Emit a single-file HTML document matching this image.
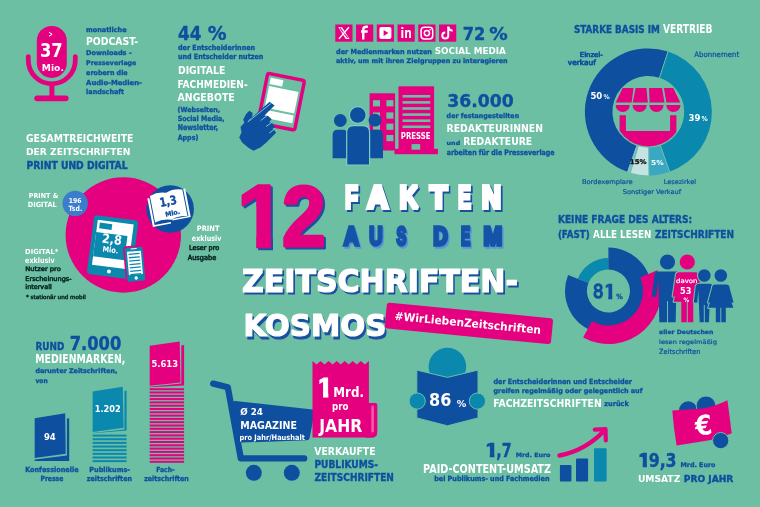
<!DOCTYPE html>
<html><head><meta charset="utf-8"><title>12 Fakten aus dem Zeitschriften-Kosmos</title>
<style>
html,body{margin:0;padding:0;background:#6cbfa3;}
body{width:760px;height:507px;overflow:hidden;}
svg{display:block;font-family:"Liberation Sans",Arial,sans-serif;}
</style></head><body>
<svg width="760" height="507" viewBox="0 0 760 507">
<rect x="0" y="0" width="760" height="507" fill="#6cbfa3"/>
<rect x="36.8" y="25.9" width="30" height="52" rx="15" fill="#e4007f"/>
<path d="M28.3,56.6 L28.3,60.3 A23.5,23.5 0 0 0 75.3,60.3 L75.3,56.6" stroke="#e4007f" stroke-width="4.8" stroke-linecap="round" fill="none"/>
<rect x="49.4" y="84" width="5" height="13" fill="#e4007f"/>
<rect x="34.3" y="95.4" width="34.3" height="5.8" rx="2.9" fill="#e4007f"/>
<text x="48.50" y="36.75" font-family="DejaVu Sans Condensed, DejaVu Sans, sans-serif" font-stretch="condensed" font-size="8.42" font-weight="bold" textLength="4.19" lengthAdjust="spacingAndGlyphs" fill="#ffffff">&gt;</text>
<text x="40.00" y="56.90" font-family="DejaVu Sans Condensed, DejaVu Sans, sans-serif" font-stretch="condensed" font-size="19.19" font-weight="bold" textLength="22.74" lengthAdjust="spacingAndGlyphs" fill="#ffffff">37</text>
<text x="41.80" y="71.10" font-family="DejaVu Sans Condensed, DejaVu Sans, sans-serif" font-stretch="condensed" font-size="8.82" font-weight="bold" textLength="22.09" lengthAdjust="spacingAndGlyphs" fill="#ffffff">Mio.</text>
<text x="86.14" y="31.66" font-family="DejaVu Sans Condensed, DejaVu Sans, sans-serif" font-stretch="condensed" font-size="6.86" font-weight="bold" textLength="40.40" lengthAdjust="spacingAndGlyphs" fill="#0f4f9f" stroke="#0f4f9f" stroke-width="0.29" stroke-linejoin="round">monatliche</text>
<text x="86.00" y="44.80" font-family="DejaVu Sans Condensed, DejaVu Sans, sans-serif" font-stretch="condensed" font-size="11.01" font-weight="bold" textLength="52.01" lengthAdjust="spacingAndGlyphs" fill="#ffffff">PODCAST-</text>
<text x="86.14" y="54.86" font-family="DejaVu Sans Condensed, DejaVu Sans, sans-serif" font-stretch="condensed" font-size="6.61" font-weight="bold" textLength="45.90" lengthAdjust="spacingAndGlyphs" fill="#0f4f9f" stroke="#0f4f9f" stroke-width="0.28" stroke-linejoin="round">Downloads –</text>
<text x="86.14" y="65.36" font-family="DejaVu Sans Condensed, DejaVu Sans, sans-serif" font-stretch="condensed" font-size="6.48" font-weight="bold" textLength="50.23" lengthAdjust="spacingAndGlyphs" fill="#0f4f9f" stroke="#0f4f9f" stroke-width="0.27" stroke-linejoin="round">Presseverlage</text>
<text x="86.14" y="74.66" font-family="DejaVu Sans Condensed, DejaVu Sans, sans-serif" font-stretch="condensed" font-size="6.86" font-weight="bold" textLength="41.52" lengthAdjust="spacingAndGlyphs" fill="#0f4f9f" stroke="#0f4f9f" stroke-width="0.29" stroke-linejoin="round">erobern die</text>
<text x="86.14" y="84.56" font-family="DejaVu Sans Condensed, DejaVu Sans, sans-serif" font-stretch="condensed" font-size="6.86" font-weight="bold" textLength="55.70" lengthAdjust="spacingAndGlyphs" fill="#0f4f9f" stroke="#0f4f9f" stroke-width="0.29" stroke-linejoin="round">Audio-Medien-</text>
<text x="86.14" y="94.06" font-family="DejaVu Sans Condensed, DejaVu Sans, sans-serif" font-stretch="condensed" font-size="6.86" font-weight="bold" textLength="38.03" lengthAdjust="spacingAndGlyphs" fill="#0f4f9f" stroke="#0f4f9f" stroke-width="0.29" stroke-linejoin="round">landschaft</text>
<text x="178.08" y="39.53" font-family="DejaVu Sans Condensed, DejaVu Sans, sans-serif" font-stretch="condensed" font-size="19.38" font-weight="bold" textLength="23.39" lengthAdjust="spacingAndGlyphs" fill="#0f4f9f" stroke="#0f4f9f" stroke-width="0.35" stroke-linejoin="round">44</text>
<text x="207.68" y="39.53" font-family="DejaVu Sans Condensed, DejaVu Sans, sans-serif" font-stretch="condensed" font-size="18.99" font-weight="bold" textLength="18.78" lengthAdjust="spacingAndGlyphs" fill="#0f4f9f" stroke="#0f4f9f" stroke-width="0.35" stroke-linejoin="round">%</text>
<text x="178.05" y="49.85" font-family="DejaVu Sans Condensed, DejaVu Sans, sans-serif" font-stretch="condensed" font-size="7.11" font-weight="bold" textLength="76.99" lengthAdjust="spacingAndGlyphs" fill="#0f4f9f" stroke="#0f4f9f" stroke-width="0.30" stroke-linejoin="round">der Entscheiderinnen</text>
<text x="178.06" y="59.24" font-family="DejaVu Sans Condensed, DejaVu Sans, sans-serif" font-stretch="condensed" font-size="7.35" font-weight="bold" textLength="85.18" lengthAdjust="spacingAndGlyphs" fill="#0f4f9f" stroke="#0f4f9f" stroke-width="0.31" stroke-linejoin="round">und Entscheider nutzen</text>
<text x="177.90" y="73.50" font-family="DejaVu Sans Condensed, DejaVu Sans, sans-serif" font-stretch="condensed" font-size="10.60" font-weight="bold" textLength="47.40" lengthAdjust="spacingAndGlyphs" fill="#ffffff">DIGITALE</text>
<text x="177.50" y="87.70" font-family="DejaVu Sans Condensed, DejaVu Sans, sans-serif" font-stretch="condensed" font-size="10.20" font-weight="bold" textLength="70.18" lengthAdjust="spacingAndGlyphs" fill="#ffffff">FACHMEDIEN-</text>
<text x="177.50" y="101.30" font-family="DejaVu Sans Condensed, DejaVu Sans, sans-serif" font-stretch="condensed" font-size="10.74" font-weight="bold" textLength="57.31" lengthAdjust="spacingAndGlyphs" fill="#ffffff">ANGEBOTE</text>
<text x="177.64" y="112.06" font-family="DejaVu Sans Condensed, DejaVu Sans, sans-serif" font-stretch="condensed" font-size="6.86" font-weight="bold" textLength="42.51" lengthAdjust="spacingAndGlyphs" fill="#0f4f9f" stroke="#0f4f9f" stroke-width="0.29" stroke-linejoin="round">(Webseiten,</text>
<text x="177.65" y="121.05" font-family="DejaVu Sans Condensed, DejaVu Sans, sans-serif" font-stretch="condensed" font-size="7.23" font-weight="bold" textLength="47.01" lengthAdjust="spacingAndGlyphs" fill="#0f4f9f" stroke="#0f4f9f" stroke-width="0.31" stroke-linejoin="round">Social Media,</text>
<text x="177.67" y="130.43" font-family="DejaVu Sans Condensed, DejaVu Sans, sans-serif" font-stretch="condensed" font-size="7.85" font-weight="bold" textLength="40.45" lengthAdjust="spacingAndGlyphs" fill="#0f4f9f" stroke="#0f4f9f" stroke-width="0.33" stroke-linejoin="round">Newsletter,</text>
<text x="177.65" y="139.65" font-family="DejaVu Sans Condensed, DejaVu Sans, sans-serif" font-stretch="condensed" font-size="7.23" font-weight="bold" textLength="20.70" lengthAdjust="spacingAndGlyphs" fill="#0f4f9f" stroke="#0f4f9f" stroke-width="0.31" stroke-linejoin="round">Apps)</text>
<g transform="translate(281.2,101.7) rotate(11.3)"><rect x="-20.5" y="-27" width="41" height="54" rx="4" fill="#e4007f"/><rect x="-17" y="-23.5" width="34" height="47" fill="#6cbfa3"/><rect x="-15" y="-21.5" width="13" height="6.5" fill="#ffffff"/><rect x="-15" y="-13" width="30" height="22" fill="#ffffff"/><rect x="-15" y="11" width="30" height="8" fill="#ffffff"/></g>
<polygon points="269.65,101.83 274.55,105.45 267.95,112.06 264.54,115.57 268.16,116.10 271.68,119.30 269.23,122.07 272.74,123.56 274.98,126.75 272.42,129.10 274.55,130.16 276.04,132.72 271.36,137.62 266.03,142.73 260.71,147.20 253.57,150.72 248.78,148.05 242.39,142.73 239.19,137.62 241.54,132.29 240.47,126.97 244.31,122.71 243.24,119.51 246.12,113.97 249.31,110.78 252.61,113.12 252.19,117.17 249.42,119.30 247.50,121.64" fill="#0f4f9f"/>
<line x1="247.71" y1="122.07" x2="271.14" y2="103.32" stroke="#7cc9c9" stroke-width="1"/>
<line x1="260.71" y1="120.58" x2="267.10" y2="115.57" stroke="#7cc9c9" stroke-width="1"/>
<line x1="266.03" y1="126.54" x2="272.21" y2="122.07" stroke="#7cc9c9" stroke-width="1"/>
<line x1="269.23" y1="133.14" x2="274.55" y2="129.10" stroke="#7cc9c9" stroke-width="1"/>
<rect x="335.30" y="24.5" width="17.2" height="17.2" fill="#e4007f"/>
<rect x="356.05" y="24.5" width="17.2" height="17.2" fill="#e4007f"/>
<rect x="376.80" y="24.5" width="17.2" height="17.2" fill="#e4007f"/>
<rect x="397.55" y="24.5" width="17.2" height="17.2" fill="#e4007f"/>
<rect x="418.30" y="24.5" width="17.2" height="17.2" fill="#e4007f"/>
<rect x="439.05" y="24.5" width="17.2" height="17.2" fill="#e4007f"/>
<path d="M338.3,27.3 L342.1,27.3 L349.50000000000006,38.9 L345.70000000000005,38.9 Z" fill="#ffffff"/>
<path d="M340.00000000000006,28.200000000000003 L347.8,38.0" stroke="#e4007f" stroke-width="1.1" fill="none"/>
<path d="M348.90000000000003,27.3 L338.90000000000003,38.9" stroke="#ffffff" stroke-width="1.4" fill="none"/>
<path d="M367.85,26.8 L366.25000000000006,26.8 Q363.25000000000006,26.8 363.25000000000006,29.8 L363.25000000000006,39.6 M361.05,31.5 L367.65000000000003,31.5" stroke="#ffffff" stroke-width="2.4" fill="none"/>
<rect x="379.40000000000003" y="27.1" width="12" height="12" rx="2" fill="#ffffff"/>
<path d="M383.6,30.1 L388.40000000000003,33.1 L383.6,36.1 Z" fill="#e4007f"/>
<text x="400.55" y="38.10" font-family="DejaVu Sans Condensed, DejaVu Sans, sans-serif" font-stretch="condensed" font-size="14.21" font-weight="bold" textLength="11.19" lengthAdjust="spacingAndGlyphs" fill="#ffffff">in</text>
<rect x="421.1" y="27.3" width="11.6" height="11.6" rx="3.2" fill="none" stroke="#ffffff" stroke-width="1.5"/>
<circle cx="426.90000000000003" cy="33.1" r="2.6" fill="none" stroke="#ffffff" stroke-width="1.5"/>
<circle cx="430.20000000000005" cy="29.8" r="0.8" fill="#ffffff"/>
<path d="M448.25000000000006,26.6 L448.25000000000006,35.6 A3,3 0 1 1 445.25000000000006,32.6" stroke="#ffffff" stroke-width="2" fill="none"/>
<path d="M448.25000000000006,27.1 Q449.15000000000003,30.6 452.65000000000003,30.8" stroke="#ffffff" stroke-width="2" fill="none"/>
<text x="462.78" y="39.93" font-family="DejaVu Sans Condensed, DejaVu Sans, sans-serif" font-stretch="condensed" font-size="18.19" font-weight="bold" textLength="22.59" lengthAdjust="spacingAndGlyphs" fill="#0f4f9f" stroke="#0f4f9f" stroke-width="0.35" stroke-linejoin="round">72</text>
<text x="489.18" y="39.93" font-family="DejaVu Sans Condensed, DejaVu Sans, sans-serif" font-stretch="condensed" font-size="18.19" font-weight="bold" textLength="18.48" lengthAdjust="spacingAndGlyphs" fill="#0f4f9f" stroke="#0f4f9f" stroke-width="0.35" stroke-linejoin="round">%</text>
<text x="336.04" y="53.96" font-family="DejaVu Sans Condensed, DejaVu Sans, sans-serif" font-stretch="condensed" font-size="6.86" font-weight="bold" textLength="95.91" lengthAdjust="spacingAndGlyphs" fill="#0f4f9f" stroke="#0f4f9f" stroke-width="0.29" stroke-linejoin="round">der Medienmarken nutzen</text>
<text x="434.70" y="54.20" font-family="DejaVu Sans Condensed, DejaVu Sans, sans-serif" font-stretch="condensed" font-size="9.40" font-weight="bold" textLength="71.08" lengthAdjust="spacingAndGlyphs" fill="#ffffff">SOCIAL MEDIA</text>
<text x="336.04" y="62.86" font-family="DejaVu Sans Condensed, DejaVu Sans, sans-serif" font-stretch="condensed" font-size="6.61" font-weight="bold" textLength="171.61" lengthAdjust="spacingAndGlyphs" fill="#0f4f9f" stroke="#0f4f9f" stroke-width="0.28" stroke-linejoin="round">aktiv, um mit ihren Zielgruppen zu interagieren</text>
<rect x="369.6" y="93.3" width="25.5" height="57.2" fill="#e4007f"/>
<rect x="373" y="100.2" width="7" height="6.2" fill="#6cbfa3"/>
<rect x="386.4" y="100.2" width="7" height="6.2" fill="#6cbfa3"/>
<rect x="373" y="112.4" width="7" height="6.2" fill="#6cbfa3"/>
<rect x="386.4" y="112.4" width="7" height="6.2" fill="#6cbfa3"/>
<rect x="373" y="123.6" width="7" height="6.2" fill="#6cbfa3"/>
<rect x="386.4" y="123.6" width="7" height="6.2" fill="#6cbfa3"/>
<rect x="373" y="135.0" width="7" height="6.2" fill="#6cbfa3"/>
<rect x="386.4" y="135.0" width="7" height="6.2" fill="#6cbfa3"/>
<rect x="396.5" y="85.3" width="39.6" height="65" fill="#6cbfa3"/>
<rect x="398.5" y="86.3" width="35.6" height="64" fill="#e4007f"/>
<rect x="394.5" y="148.8" width="43.4" height="5.4" fill="#e4007f"/>
<rect x="402.5" y="95.00" width="27.8" height="2.6" fill="#6cbfa3"/>
<rect x="402.5" y="101.10" width="27.8" height="2.6" fill="#6cbfa3"/>
<rect x="402.5" y="107.20" width="27.8" height="2.6" fill="#6cbfa3"/>
<rect x="402.5" y="113.30" width="27.8" height="2.6" fill="#6cbfa3"/>
<rect x="402.5" y="119.40" width="27.8" height="2.6" fill="#6cbfa3"/>
<rect x="402.5" y="125.50" width="27.8" height="2.6" fill="#6cbfa3"/>
<rect x="411.5" y="144.1" width="8.7" height="5.6" fill="#6cbfa3"/>
<text x="400.80" y="138.90" font-family="DejaVu Sans Condensed, DejaVu Sans, sans-serif" font-stretch="condensed" font-size="8.86" font-weight="bold" textLength="29.78" lengthAdjust="spacingAndGlyphs" fill="#ffffff">PRESSE</text>
<path d="M332.6,158.3 L332.6,135.01999999999998 Q332.6,129.7 337.92,129.7 L342.48,129.7 Q347.8,129.7 347.8,135.01999999999998 L347.8,158.3 Z" fill="#0f4f9f"/>
<circle cx="340.3" cy="120.5" r="6.4" fill="#0f4f9f"/>
<path d="M368.0,158.3 L368.0,134.95 Q368.0,129.7 373.25,129.7 L377.75,129.7 Q383.0,129.7 383.0,134.95 L383.0,158.3 Z" fill="#0f4f9f"/>
<circle cx="375.0" cy="120.2" r="6.4" fill="#0f4f9f"/>
<path d="M347.3,164.4 L347.3,132.2 Q347.3,126.2 353.3,126.2 L363.0,126.2 Q369.0,126.2 369.0,132.2 L369.0,164.4 Z" fill="#7ccfc0" stroke="#7ccfc0" stroke-width="2.4"/>
<circle cx="357.8" cy="115.0" r="9.0" fill="#7ccfc0"/>
<path d="M347.3,164.4 L347.3,132.2 Q347.3,126.2 353.3,126.2 L363.0,126.2 Q369.0,126.2 369.0,132.2 L369.0,164.4 Z" fill="#0f4f9f"/>
<circle cx="357.8" cy="115.0" r="7.8" fill="#0f4f9f"/>
<text x="447.38" y="106.62" font-family="DejaVu Sans Condensed, DejaVu Sans, sans-serif" font-stretch="condensed" font-size="17.92" font-weight="bold" textLength="66.29" lengthAdjust="spacingAndGlyphs" fill="#0f4f9f" stroke="#0f4f9f" stroke-width="0.35" stroke-linejoin="round">36.000</text>
<text x="446.64" y="117.56" font-family="DejaVu Sans Condensed, DejaVu Sans, sans-serif" font-stretch="condensed" font-size="6.73" font-weight="bold" textLength="72.51" lengthAdjust="spacingAndGlyphs" fill="#0f4f9f" stroke="#0f4f9f" stroke-width="0.28" stroke-linejoin="round">der festangestellten</text>
<text x="446.50" y="132.10" font-family="DejaVu Sans Condensed, DejaVu Sans, sans-serif" font-stretch="condensed" font-size="11.23" font-weight="bold" textLength="96.48" lengthAdjust="spacingAndGlyphs" fill="#ffffff">REDAKTEURINNEN</text>
<text x="446.62" y="144.58" font-family="DejaVu Sans Condensed, DejaVu Sans, sans-serif" font-stretch="condensed" font-size="5.73" font-weight="bold" textLength="13.56" lengthAdjust="spacingAndGlyphs" fill="#0f4f9f" stroke="#0f4f9f" stroke-width="0.24" stroke-linejoin="round">und</text>
<text x="463.20" y="144.70" font-family="DejaVu Sans Condensed, DejaVu Sans, sans-serif" font-stretch="condensed" font-size="10.68" font-weight="bold" textLength="68.90" lengthAdjust="spacingAndGlyphs" fill="#ffffff">REDAKTEURE</text>
<text x="446.66" y="154.74" font-family="DejaVu Sans Condensed, DejaVu Sans, sans-serif" font-stretch="condensed" font-size="7.46" font-weight="bold" textLength="107.90" lengthAdjust="spacingAndGlyphs" fill="#0f4f9f" stroke="#0f4f9f" stroke-width="0.31" stroke-linejoin="round">arbeiten für die Presseverlage</text>
<text x="573.92" y="32.83" font-family="DejaVu Sans Condensed, DejaVu Sans, sans-serif" font-stretch="condensed" font-size="11.28" font-weight="bold" textLength="85.89" lengthAdjust="spacingAndGlyphs" fill="#0f4f9f" stroke="#0f4f9f" stroke-width="0.35" stroke-linejoin="round">STARKE BASIS IM</text>
<text x="663.00" y="33.00" font-family="DejaVu Sans Condensed, DejaVu Sans, sans-serif" font-stretch="condensed" font-size="11.99" font-weight="bold" textLength="49.50" lengthAdjust="spacingAndGlyphs" fill="#ffffff">VERTRIEB</text>
<text x="579.80" y="57.20" font-family="DejaVu Sans Condensed, DejaVu Sans, sans-serif" font-stretch="condensed" font-size="6.77" font-weight="normal" textLength="22.89" lengthAdjust="spacingAndGlyphs" fill="#0f4f9f" stroke="#0f4f9f" stroke-width="0.61" stroke-linejoin="round">Einzel-</text>
<text x="567.83" y="65.17" font-family="DejaVu Sans Condensed, DejaVu Sans, sans-serif" font-stretch="condensed" font-size="7.36" font-weight="normal" textLength="27.94" lengthAdjust="spacingAndGlyphs" fill="#0f4f9f" stroke="#0f4f9f" stroke-width="0.66" stroke-linejoin="round">verkauf</text>
<text x="694.37" y="57.13" font-family="DejaVu Sans Condensed, DejaVu Sans, sans-serif" font-stretch="condensed" font-size="7.58" font-weight="normal" textLength="44.76" lengthAdjust="spacingAndGlyphs" fill="#0f4f9f" stroke="#0f4f9f" stroke-width="0.24" stroke-linejoin="round">Abonnement</text>
<path d="M627.20,171.76 A63.5,63.5 0 0 1 668.02,51.51 L659.46,77.85 A35.8,35.8 0 0 0 636.45,145.65 Z" fill="#0f4f9f"/>
<path d="M668.02,51.51 A63.5,63.5 0 0 1 669.70,171.72 L660.41,145.63 A35.8,35.8 0 0 0 659.46,77.85 Z" fill="#0a88ad"/>
<path d="M669.70,171.72 A63.5,63.5 0 0 1 648.95,175.40 L648.71,147.70 A35.8,35.8 0 0 0 660.41,145.63 Z" fill="#3aa7c3"/>
<path d="M648.95,175.40 A63.5,63.5 0 0 1 630.37,172.79 L638.23,146.23 A35.8,35.8 0 0 0 648.71,147.70 Z" fill="#c6e3e3"/>
<path d="M630.37,172.79 A63.5,63.5 0 0 1 627.20,171.76 L636.45,145.65 A35.8,35.8 0 0 0 638.23,146.23 Z" fill="#7cc0d0"/>
<line x1="659.46" y1="77.85" x2="668.33" y2="50.56" stroke="#6cbfa3" stroke-width="1"/>
<line x1="660.41" y1="145.63" x2="670.04" y2="172.66" stroke="#6cbfa3" stroke-width="1"/>
<line x1="648.71" y1="147.70" x2="648.96" y2="176.40" stroke="#6cbfa3" stroke-width="1"/>
<line x1="638.23" y1="146.23" x2="630.08" y2="173.74" stroke="#6cbfa3" stroke-width="1"/>
<polygon points="622.70,88.00 633.50,88.00 631.60,102.60 615.70,102.60" fill="#e4007f"/>
<polygon points="635.60,88.00 646.50,88.00 647.80,102.60 632.80,102.60" fill="#e4007f"/>
<polygon points="649.00,88.00 662.00,88.00 664.50,102.60 649.60,102.60" fill="#e4007f"/>
<polygon points="663.90,88.00 673.20,88.00 680.30,102.60 666.40,102.60" fill="#e4007f"/>
<path d="M615.6,105 A7.1,7.1 0 0 0 629.8000000000001,105 Z" fill="#e4007f"/>
<path d="M632.5,105 A7.1,7.1 0 0 0 646.7,105 Z" fill="#e4007f"/>
<path d="M649.4,105 A7.1,7.1 0 0 0 663.6,105 Z" fill="#e4007f"/>
<path d="M666.3,105 A7.1,7.1 0 0 0 680.5,105 Z" fill="#e4007f"/>
<clipPath id="shopclip"><circle cx="648.4" cy="111.9" r="34.5"/></clipPath>
<path d="M619.6,115.3 L619.6,152 L676.4,152 L676.4,115.3 L670.1,115.3 L670.1,131 L625.9,131 L625.9,115.3 Z" fill="#e4007f" clip-path="url(#shopclip)"/>
<text x="590.40" y="99.40" font-family="DejaVu Sans Condensed, DejaVu Sans, sans-serif" font-stretch="condensed" font-size="8.19" font-weight="bold" textLength="11.92" lengthAdjust="spacingAndGlyphs" fill="#ffffff">50</text>
<text x="603.60" y="99.40" font-family="DejaVu Sans Condensed, DejaVu Sans, sans-serif" font-stretch="condensed" font-size="6.44" font-weight="bold" textLength="6.21" lengthAdjust="spacingAndGlyphs" fill="#ffffff">%</text>
<text x="688.50" y="121.00" font-family="DejaVu Sans Condensed, DejaVu Sans, sans-serif" font-stretch="condensed" font-size="8.59" font-weight="bold" textLength="11.92" lengthAdjust="spacingAndGlyphs" fill="#ffffff">39</text>
<text x="701.60" y="121.00" font-family="DejaVu Sans Condensed, DejaVu Sans, sans-serif" font-stretch="condensed" font-size="6.85" font-weight="bold" textLength="6.21" lengthAdjust="spacingAndGlyphs" fill="#ffffff">%</text>
<text x="629.84" y="164.36" font-family="DejaVu Sans Condensed, DejaVu Sans, sans-serif" font-stretch="condensed" font-size="6.48" font-weight="bold" textLength="16.81" lengthAdjust="spacingAndGlyphs" fill="#111111" stroke="#111111" stroke-width="0.27" stroke-linejoin="round">15%</text>
<text x="651.10" y="164.50" font-family="DejaVu Sans Condensed, DejaVu Sans, sans-serif" font-stretch="condensed" font-size="6.85" font-weight="bold" textLength="12.52" lengthAdjust="spacingAndGlyphs" fill="#ffffff">5%</text>
<text x="581.90" y="184.10" font-family="DejaVu Sans Condensed, DejaVu Sans, sans-serif" font-stretch="condensed" font-size="6.45" font-weight="normal" textLength="50.78" lengthAdjust="spacingAndGlyphs" fill="#0f4f9f" stroke="#0f4f9f" stroke-width="0.20" stroke-linejoin="round">Bordexemplare</text>
<text x="663.70" y="184.10" font-family="DejaVu Sans Condensed, DejaVu Sans, sans-serif" font-stretch="condensed" font-size="6.45" font-weight="normal" textLength="32.30" lengthAdjust="spacingAndGlyphs" fill="#0f4f9f" stroke="#0f4f9f" stroke-width="0.20" stroke-linejoin="round">Lesezirkel</text>
<text x="622.70" y="194.00" font-family="DejaVu Sans Condensed, DejaVu Sans, sans-serif" font-stretch="condensed" font-size="6.45" font-weight="normal" textLength="58.46" lengthAdjust="spacingAndGlyphs" fill="#0f4f9f" stroke="#0f4f9f" stroke-width="0.20" stroke-linejoin="round">Sonstiger Verkauf</text>
<text x="26.00" y="141.90" font-family="DejaVu Sans Condensed, DejaVu Sans, sans-serif" font-stretch="condensed" font-size="10.20" font-weight="bold" textLength="107.42" lengthAdjust="spacingAndGlyphs" fill="#ffffff">GESAMTREICHWEITE</text>
<text x="26.00" y="154.80" font-family="DejaVu Sans Condensed, DejaVu Sans, sans-serif" font-stretch="condensed" font-size="9.53" font-weight="bold" textLength="104.48" lengthAdjust="spacingAndGlyphs" fill="#ffffff">DER ZEITSCHRIFTEN</text>
<text x="26.48" y="168.52" font-family="DejaVu Sans Condensed, DejaVu Sans, sans-serif" font-stretch="condensed" font-size="9.60" font-weight="bold" textLength="101.05" lengthAdjust="spacingAndGlyphs" fill="#0f4f9f" stroke="#0f4f9f" stroke-width="0.35" stroke-linejoin="round">PRINT UND DIGITAL</text>
<circle cx="123.3" cy="235" r="57.7" fill="#e4007f"/>
<circle cx="75.2" cy="203.4" r="12.7" fill="#3b7ccb"/>
<text x="68.80" y="203.00" font-family="DejaVu Sans Condensed, DejaVu Sans, sans-serif" font-stretch="condensed" font-size="6.85" font-weight="bold" textLength="12.69" lengthAdjust="spacingAndGlyphs" fill="#ffffff">196</text>
<text x="68.60" y="211.25" font-family="DejaVu Sans Condensed, DejaVu Sans, sans-serif" font-stretch="condensed" font-size="7.30" font-weight="bold" textLength="13.62" lengthAdjust="spacingAndGlyphs" fill="#ffffff">Tsd.</text>
<text x="28.75" y="198.10" font-family="DejaVu Sans Condensed, DejaVu Sans, sans-serif" font-stretch="condensed" font-size="6.71" font-weight="bold" textLength="29.46" lengthAdjust="spacingAndGlyphs" fill="#ffffff">PRINT &amp;</text>
<text x="27.80" y="206.90" font-family="DejaVu Sans Condensed, DejaVu Sans, sans-serif" font-stretch="condensed" font-size="7.11" font-weight="bold" textLength="29.00" lengthAdjust="spacingAndGlyphs" fill="#ffffff">DIGITAL</text>
<circle cx="170.2" cy="209" r="23.75" fill="#0f4f9f"/>
<g transform="translate(168.8,206.5) rotate(-11)"><path d="M-19.5,-12 L-19.5,17 L-1,17 L-1,15.5 L-17.5,15.5 L-17.5,-12 Z" fill="#ffffff"/><path d="M19.5,-14.5 L19.5,14.5 L1,14.5 L1,13 L17.5,13 L17.5,-14.5 Z" fill="#ffffff"/><path d="M-16.5,-14 Q-8,-17 0,-14 Q8,-17 16.5,-14 L16.5,13 Q8,10.5 0,13.5 Q-8,10.5 -16.5,13 Z" fill="#ffffff"/></g>
<g transform="rotate(-11 169 207)">
<text x="160.68" y="205.32" font-family="DejaVu Sans Condensed, DejaVu Sans, sans-serif" font-stretch="condensed" font-size="12.28" font-weight="bold" textLength="17.14" lengthAdjust="spacingAndGlyphs" fill="#0f4f9f" stroke="#0f4f9f" stroke-width="0.35" stroke-linejoin="round">1,3</text>
<text x="163.94" y="215.86" font-family="DejaVu Sans Condensed, DejaVu Sans, sans-serif" font-stretch="condensed" font-size="6.48" font-weight="bold" textLength="14.92" lengthAdjust="spacingAndGlyphs" fill="#0f4f9f" stroke="#0f4f9f" stroke-width="0.27" stroke-linejoin="round">Mio.</text>
</g>
<g transform="translate(112.6,247.2) rotate(7.4)"><rect x="-22.3" y="-29.6" width="44.6" height="59.2" rx="3.5" fill="#0a88ad"/><rect x="-18.2" y="-25.3" width="36.2" height="45.3" fill="#ffffff"/><rect x="-15.8" y="-22.8" width="12.5" height="5.8" fill="#0a88ad"/><rect x="-18.2" y="-13" width="31.5" height="24.5" fill="#0a88ad"/><circle cx="-0.5" cy="24.6" r="2" fill="#ffffff"/></g>
<g transform="rotate(7.4 113.15 246.6)">
<text x="101.00" y="244.00" font-family="DejaVu Sans Condensed, DejaVu Sans, sans-serif" font-stretch="condensed" font-size="12.75" font-weight="bold" textLength="19.99" lengthAdjust="spacingAndGlyphs" fill="#ffffff">2,8</text>
<text x="102.90" y="252.80" font-family="DejaVu Sans Condensed, DejaVu Sans, sans-serif" font-stretch="condensed" font-size="7.63" font-weight="bold" textLength="15.89" lengthAdjust="spacingAndGlyphs" fill="#ffffff">Mio.</text>
</g>
<g transform="translate(135,264.2) rotate(-5)"><rect x="-9.75" y="-17.75" width="19.5" height="35.5" rx="2.5" fill="#0a88ad" stroke="#e4007f" stroke-width="1.6"/><rect x="-7" y="-13" width="14" height="23.5" fill="#ffffff"/><rect x="-5.5" y="-11.00" width="11" height="1.3" fill="#0a88ad"/><rect x="-5.5" y="-7.60" width="11" height="1.3" fill="#0a88ad"/><rect x="-5.5" y="-4.20" width="11" height="1.3" fill="#0a88ad"/><rect x="-5.5" y="-0.80" width="11" height="1.3" fill="#0a88ad"/><rect x="-5.5" y="2.60" width="11" height="1.3" fill="#0a88ad"/><rect x="-5.5" y="6.00" width="11" height="1.3" fill="#0a88ad"/><rect x="-5.5" y="9.40" width="11" height="1.3" fill="#0a88ad"/><rect x="-3" y="-16" width="6" height="1" fill="#ffffff"/><circle cx="0" cy="13.8" r="1.7" fill="#ffffff"/></g>
<text x="196.80" y="231.30" font-family="DejaVu Sans Condensed, DejaVu Sans, sans-serif" font-stretch="condensed" font-size="7.40" font-weight="bold" textLength="22.69" lengthAdjust="spacingAndGlyphs" fill="#ffffff">PRINT</text>
<text x="191.80" y="241.20" font-family="DejaVu Sans Condensed, DejaVu Sans, sans-serif" font-stretch="condensed" font-size="7.89" font-weight="bold" textLength="29.58" lengthAdjust="spacingAndGlyphs" fill="#ffffff">exklusiv</text>
<text x="188.96" y="250.24" font-family="DejaVu Sans Condensed, DejaVu Sans, sans-serif" font-stretch="condensed" font-size="6.69" font-weight="normal" textLength="30.28" lengthAdjust="spacingAndGlyphs" fill="#0c2a26" stroke="#0c2a26" stroke-width="0.52" stroke-linejoin="round">Leser pro</text>
<text x="187.67" y="260.13" font-family="DejaVu Sans Condensed, DejaVu Sans, sans-serif" font-stretch="condensed" font-size="7.05" font-weight="normal" textLength="28.57" lengthAdjust="spacingAndGlyphs" fill="#0c2a26" stroke="#0c2a26" stroke-width="0.54" stroke-linejoin="round">Ausgabe</text>
<text x="25.10" y="253.50" font-family="DejaVu Sans Condensed, DejaVu Sans, sans-serif" font-stretch="condensed" font-size="6.98" font-weight="bold" textLength="33.10" lengthAdjust="spacingAndGlyphs" fill="#ffffff">DIGITAL*</text>
<text x="25.10" y="263.10" font-family="DejaVu Sans Condensed, DejaVu Sans, sans-serif" font-stretch="condensed" font-size="7.63" font-weight="bold" textLength="29.48" lengthAdjust="spacingAndGlyphs" fill="#ffffff">exklusiv</text>
<text x="25.34" y="271.16" font-family="DejaVu Sans Condensed, DejaVu Sans, sans-serif" font-stretch="condensed" font-size="6.32" font-weight="normal" textLength="35.42" lengthAdjust="spacingAndGlyphs" fill="#0c2a26" stroke="#0c2a26" stroke-width="0.49" stroke-linejoin="round">Nutzer pro</text>
<text x="25.35" y="280.55" font-family="DejaVu Sans Condensed, DejaVu Sans, sans-serif" font-stretch="condensed" font-size="6.57" font-weight="normal" textLength="46.30" lengthAdjust="spacingAndGlyphs" fill="#0c2a26" stroke="#0c2a26" stroke-width="0.51" stroke-linejoin="round">Erscheinungs-</text>
<text x="25.35" y="289.45" font-family="DejaVu Sans Condensed, DejaVu Sans, sans-serif" font-stretch="condensed" font-size="6.57" font-weight="normal" textLength="26.39" lengthAdjust="spacingAndGlyphs" fill="#0c2a26" stroke="#0c2a26" stroke-width="0.51" stroke-linejoin="round">intervall</text>
<text x="26.02" y="298.98" font-family="DejaVu Sans Condensed, DejaVu Sans, sans-serif" font-stretch="condensed" font-size="5.61" font-weight="normal" textLength="59.76" lengthAdjust="spacingAndGlyphs" fill="#0c2a26" stroke="#0c2a26" stroke-width="0.43" stroke-linejoin="round">* stationär und mobil</text>
<clipPath id="c1_0"><polygon points="238.0,182.2 273.0,182.2 273.0,254.2 258.2,254.2 258.2,209.2 238.0,209.2"/></clipPath>
<text x="238.74" y="248.80" font-size="88.66" font-weight="bold" fill="#1b4fa0" stroke="#1b4fa0" stroke-width="2.4" stroke-linejoin="round" clip-path="url(#c1_0)">1</text>
<text x="283.90" y="248.40" font-size="86.00" font-weight="bold" textLength="43.59" lengthAdjust="spacingAndGlyphs" fill="#1b4fa0" stroke="#1b4fa0" stroke-width="3.20" stroke-linejoin="round">2</text>
<clipPath id="c1_1"><polygon points="236,180 271,180 271,252 256.2,252 256.2,207 236,207"/></clipPath>
<text x="236.74" y="246.60" font-size="88.66" font-weight="bold" fill="#e4007f" stroke="#e4007f" stroke-width="2.4" stroke-linejoin="round" clip-path="url(#c1_1)">1</text>
<text x="281.90" y="246.20" font-size="86.00" font-weight="bold" textLength="43.59" lengthAdjust="spacingAndGlyphs" fill="#e4007f" stroke="#e4007f" stroke-width="3.20" stroke-linejoin="round">2</text>
<text x="346.93" y="209.87" font-size="31.06" font-weight="bold" textLength="12.55" lengthAdjust="spacingAndGlyphs" fill="#1b4fa0" stroke="#1b4fa0" stroke-width="4.07" stroke-linejoin="miter" stroke-miterlimit="2">F</text>
<text x="368.83" y="209.87" font-size="31.06" font-weight="bold" textLength="20.90" lengthAdjust="spacingAndGlyphs" fill="#1b4fa0" stroke="#1b4fa0" stroke-width="4.07" stroke-linejoin="miter" stroke-miterlimit="2">A</text>
<text x="401.23" y="209.87" font-size="31.06" font-weight="bold" textLength="18.39" lengthAdjust="spacingAndGlyphs" fill="#1b4fa0" stroke="#1b4fa0" stroke-width="4.07" stroke-linejoin="miter" stroke-miterlimit="2">K</text>
<text x="431.53" y="209.87" font-size="31.06" font-weight="bold" textLength="17.26" lengthAdjust="spacingAndGlyphs" fill="#1b4fa0" stroke="#1b4fa0" stroke-width="4.07" stroke-linejoin="miter" stroke-miterlimit="2">T</text>
<text x="459.93" y="209.87" font-size="31.06" font-weight="bold" textLength="12.57" lengthAdjust="spacingAndGlyphs" fill="#1b4fa0" stroke="#1b4fa0" stroke-width="4.07" stroke-linejoin="miter" stroke-miterlimit="2">E</text>
<text x="483.63" y="209.87" font-size="31.06" font-weight="bold" textLength="18.89" lengthAdjust="spacingAndGlyphs" fill="#1b4fa0" stroke="#1b4fa0" stroke-width="4.07" stroke-linejoin="miter" stroke-miterlimit="2">N</text>
<text x="345.33" y="207.57" font-size="31.06" font-weight="bold" textLength="12.55" lengthAdjust="spacingAndGlyphs" fill="#ffffff" stroke="#ffffff" stroke-width="4.07" stroke-linejoin="miter" stroke-miterlimit="2">F</text>
<text x="367.23" y="207.57" font-size="31.06" font-weight="bold" textLength="20.90" lengthAdjust="spacingAndGlyphs" fill="#ffffff" stroke="#ffffff" stroke-width="4.07" stroke-linejoin="miter" stroke-miterlimit="2">A</text>
<text x="399.63" y="207.57" font-size="31.06" font-weight="bold" textLength="18.39" lengthAdjust="spacingAndGlyphs" fill="#ffffff" stroke="#ffffff" stroke-width="4.07" stroke-linejoin="miter" stroke-miterlimit="2">K</text>
<text x="429.93" y="207.57" font-size="31.06" font-weight="bold" textLength="17.26" lengthAdjust="spacingAndGlyphs" fill="#ffffff" stroke="#ffffff" stroke-width="4.07" stroke-linejoin="miter" stroke-miterlimit="2">T</text>
<text x="458.33" y="207.57" font-size="31.06" font-weight="bold" textLength="12.57" lengthAdjust="spacingAndGlyphs" fill="#ffffff" stroke="#ffffff" stroke-width="4.07" stroke-linejoin="miter" stroke-miterlimit="2">E</text>
<text x="482.03" y="207.57" font-size="31.06" font-weight="bold" textLength="18.89" lengthAdjust="spacingAndGlyphs" fill="#ffffff" stroke="#ffffff" stroke-width="4.07" stroke-linejoin="miter" stroke-miterlimit="2">N</text>
<text x="345.36" y="247.24" font-size="25.34" font-weight="bold" textLength="15.13" lengthAdjust="spacingAndGlyphs" fill="#5c93d6" stroke="#5c93d6" stroke-width="3.32" stroke-linejoin="miter" stroke-miterlimit="2">A</text>
<text x="370.86" y="247.24" font-size="25.34" font-weight="bold" textLength="13.32" lengthAdjust="spacingAndGlyphs" fill="#5c93d6" stroke="#5c93d6" stroke-width="3.32" stroke-linejoin="miter" stroke-miterlimit="2">U</text>
<text x="398.03" y="247.27" font-size="25.04" font-weight="bold" textLength="9.86" lengthAdjust="spacingAndGlyphs" fill="#5c93d6" stroke="#5c93d6" stroke-width="3.27" stroke-linejoin="miter" stroke-miterlimit="2">S</text>
<text x="434.76" y="247.24" font-size="25.34" font-weight="bold" textLength="14.53" lengthAdjust="spacingAndGlyphs" fill="#5c93d6" stroke="#5c93d6" stroke-width="3.32" stroke-linejoin="miter" stroke-miterlimit="2">D</text>
<text x="462.56" y="247.24" font-size="25.34" font-weight="bold" textLength="9.21" lengthAdjust="spacingAndGlyphs" fill="#5c93d6" stroke="#5c93d6" stroke-width="3.32" stroke-linejoin="miter" stroke-miterlimit="2">E</text>
<text x="485.06" y="247.24" font-size="25.34" font-weight="bold" textLength="18.64" lengthAdjust="spacingAndGlyphs" fill="#5c93d6" stroke="#5c93d6" stroke-width="3.32" stroke-linejoin="miter" stroke-miterlimit="2">M</text>
<text x="343.76" y="245.24" font-size="25.34" font-weight="bold" textLength="15.13" lengthAdjust="spacingAndGlyphs" fill="#1553a8" stroke="#1553a8" stroke-width="3.32" stroke-linejoin="miter" stroke-miterlimit="2">A</text>
<text x="369.26" y="245.24" font-size="25.34" font-weight="bold" textLength="13.32" lengthAdjust="spacingAndGlyphs" fill="#1553a8" stroke="#1553a8" stroke-width="3.32" stroke-linejoin="miter" stroke-miterlimit="2">U</text>
<text x="396.43" y="245.27" font-size="25.04" font-weight="bold" textLength="9.86" lengthAdjust="spacingAndGlyphs" fill="#1553a8" stroke="#1553a8" stroke-width="3.27" stroke-linejoin="miter" stroke-miterlimit="2">S</text>
<text x="433.16" y="245.24" font-size="25.34" font-weight="bold" textLength="14.53" lengthAdjust="spacingAndGlyphs" fill="#1553a8" stroke="#1553a8" stroke-width="3.32" stroke-linejoin="miter" stroke-miterlimit="2">D</text>
<text x="460.96" y="245.24" font-size="25.34" font-weight="bold" textLength="9.21" lengthAdjust="spacingAndGlyphs" fill="#1553a8" stroke="#1553a8" stroke-width="3.32" stroke-linejoin="miter" stroke-miterlimit="2">E</text>
<text x="483.46" y="245.24" font-size="25.34" font-weight="bold" textLength="18.64" lengthAdjust="spacingAndGlyphs" fill="#1553a8" stroke="#1553a8" stroke-width="3.32" stroke-linejoin="miter" stroke-miterlimit="2">M</text>
<g transform="translate(468.9,323.4) rotate(5.5)"><rect x="-83.5" y="-13" width="167" height="26" rx="3" fill="#e4007f"/></g>
<g transform="rotate(5.5 467.9 322.9)">
<text x="394.40" y="326.90" font-family="DejaVu Sans Condensed, DejaVu Sans, sans-serif" font-stretch="condensed" font-size="11.32" font-weight="bold" textLength="147.00" lengthAdjust="spacingAndGlyphs" fill="#ffffff">#WirLiebenZeitschriften</text>
</g>
<text x="243.79" y="294.31" font-family="DejaVu Sans Condensed, DejaVu Sans, sans-serif" font-stretch="condensed" font-size="32.36" font-weight="bold" textLength="275.86" lengthAdjust="spacingAndGlyphs" fill="#1b4fa0" stroke="#1b4fa0" stroke-width="1.19" stroke-linejoin="round">ZEITSCHRIFTEN-</text>
<text x="242.09" y="291.81" font-family="DejaVu Sans Condensed, DejaVu Sans, sans-serif" font-stretch="condensed" font-size="32.36" font-weight="bold" textLength="275.86" lengthAdjust="spacingAndGlyphs" fill="#ffffff" stroke="#ffffff" stroke-width="1.19" stroke-linejoin="round">ZEITSCHRIFTEN-</text>
<text x="245.27" y="338.73" font-family="DejaVu Sans Condensed, DejaVu Sans, sans-serif" font-stretch="condensed" font-size="30.96" font-weight="bold" textLength="142.80" lengthAdjust="spacingAndGlyphs" fill="#1b4fa0" stroke="#1b4fa0" stroke-width="1.14" stroke-linejoin="round">KOSMOS</text>
<text x="243.57" y="336.23" font-family="DejaVu Sans Condensed, DejaVu Sans, sans-serif" font-stretch="condensed" font-size="30.96" font-weight="bold" textLength="142.80" lengthAdjust="spacingAndGlyphs" fill="#ffffff" stroke="#ffffff" stroke-width="1.14" stroke-linejoin="round">KOSMOS</text>
<text x="557.88" y="223.32" font-family="DejaVu Sans Condensed, DejaVu Sans, sans-serif" font-stretch="condensed" font-size="10.54" font-weight="bold" textLength="134.33" lengthAdjust="spacingAndGlyphs" fill="#0f4f9f" stroke="#0f4f9f" stroke-width="0.35" stroke-linejoin="round">KEINE FRAGE DES ALTERS:</text>
<text x="557.88" y="237.62" font-family="DejaVu Sans Condensed, DejaVu Sans, sans-serif" font-stretch="condensed" font-size="10.59" font-weight="bold" textLength="31.75" lengthAdjust="spacingAndGlyphs" fill="#0f4f9f" stroke="#0f4f9f" stroke-width="0.35" stroke-linejoin="round">(FAST)</text>
<text x="593.10" y="237.80" font-family="DejaVu Sans Condensed, DejaVu Sans, sans-serif" font-stretch="condensed" font-size="11.28" font-weight="bold" textLength="58.29" lengthAdjust="spacingAndGlyphs" fill="#ffffff">ALLE LESEN</text>
<text x="654.88" y="237.62" font-family="DejaVu Sans Condensed, DejaVu Sans, sans-serif" font-stretch="condensed" font-size="10.81" font-weight="bold" textLength="79.15" lengthAdjust="spacingAndGlyphs" fill="#0f4f9f" stroke="#0f4f9f" stroke-width="0.35" stroke-linejoin="round">ZEITSCHRIFTEN</text>
<path d="M577.72,278.85 A33.0,33.0 0 0 1 608.40,258.00 L608.40,269.50 A21.5,21.5 0 0 0 588.41,283.09 Z" fill="#0a88ad"/>
<path d="M608.40,247.60 A43.4,43.4 0 1 1 568.05,275.02 L588.41,283.09 A21.5,21.5 0 1 0 608.40,269.50 Z" fill="#0f4f9f"/>
<path d="M657.19,270.29 A53.0,53.0 0 0 1 583.11,337.58 L591.94,321.32 A34.5,34.5 0 0 0 640.16,277.52 Z" fill="#e4007f"/>
<text x="593.35" y="298.05" font-size="19.71" font-weight="normal" textLength="9.92" lengthAdjust="spacingAndGlyphs" fill="#0f4f9f" stroke="#0f4f9f" stroke-width="1.30" stroke-linejoin="round">8</text>
<clipPath id="one1"><polygon points="605.70,278.60 612.30,278.60 612.30,303.70 608.30,303.70 608.30,288.87 605.70,288.87"/></clipPath>
<text x="602.16" y="298.55" font-family="Liberation Sans, sans-serif" font-size="21.51" font-weight="bold" textLength="15.01" lengthAdjust="spacingAndGlyphs" fill="#0f4f9f" stroke="#0f4f9f" stroke-width="0.30" stroke-linejoin="round" clip-path="url(#one1)">1</text>
<text x="616.25" y="298.55" font-family="DejaVu Sans Condensed, DejaVu Sans, sans-serif" font-stretch="condensed" font-size="7.11" font-weight="bold" textLength="6.51" lengthAdjust="spacingAndGlyphs" fill="#0f4f9f" stroke="#0f4f9f" stroke-width="0.30" stroke-linejoin="round">%</text>
<path d="M651.90,296.50 L654.50,275.10 Q654.50,271.60 658.00,271.60 L677.00,271.60 Q680.50,271.60 680.50,275.10 L683.10,296.50 L678.90,296.80 L676.50,280.50 L675.70,322.30 L668.00,322.30 L668.00,301.00 L667.00,301.00 L667.00,322.30 L659.30,322.30 L658.50,280.50 L656.10,296.80 Z" fill="#0f4f9f"/>
<circle cx="667.5" cy="262.0" r="7.6" fill="#0f4f9f"/>
<path d="M672.70,296.50 L675.80,275.70 Q675.80,272.20 679.30,272.20 L695.30,272.20 Q698.80,272.20 698.80,275.70 L701.90,296.50 L697.90,296.80 L695.70,280.50 L700.90,301.80 L693.30,301.80 L693.30,322.30 L687.80,322.30 L687.80,301.80 L686.80,301.80 L686.80,322.30 L681.30,322.30 L681.30,301.80 L673.70,301.80 L678.90,280.50 L676.70,296.80 Z" fill="#6cbfa3" stroke="#6cbfa3" stroke-width="2.2" stroke-linejoin="round"/>
<circle cx="687.3" cy="262.0" r="8.7" fill="#6cbfa3"/>
<path d="M672.70,296.50 L675.80,275.70 Q675.80,272.20 679.30,272.20 L695.30,272.20 Q698.80,272.20 698.80,275.70 L701.90,296.50 L697.90,296.80 L695.70,280.50 L700.90,301.80 L693.30,301.80 L693.30,322.30 L687.80,322.30 L687.80,301.80 L686.80,301.80 L686.80,322.30 L681.30,322.30 L681.30,301.80 L673.70,301.80 L678.90,280.50 L676.70,296.80 Z" fill="#e4007f"/>
<circle cx="687.3" cy="262.0" r="7.6" fill="#e4007f"/>
<path d="M693.80,302.50 L695.70,287.30 Q695.70,283.80 699.20,283.80 L709.40,283.80 Q712.90,283.80 712.90,287.30 L714.80,302.50 L711.40,302.80 L710.30,290.00 L708.90,322.30 L704.80,322.30 L704.80,305.00 L703.80,305.00 L703.80,322.30 L699.70,322.30 L698.30,290.00 L697.20,302.80 Z" fill="#6cbfa3" stroke="#6cbfa3" stroke-width="2.2" stroke-linejoin="round"/>
<circle cx="704.3" cy="275.5" r="7.4" fill="#6cbfa3"/>
<path d="M693.80,302.50 L695.70,287.30 Q695.70,283.80 699.20,283.80 L709.40,283.80 Q712.90,283.80 712.90,287.30 L714.80,302.50 L711.40,302.80 L710.30,290.00 L708.90,322.30 L704.80,322.30 L704.80,305.00 L703.80,305.00 L703.80,322.30 L699.70,322.30 L698.30,290.00 L697.20,302.80 Z" fill="#0f4f9f"/>
<circle cx="704.3" cy="275.5" r="6.3" fill="#0f4f9f"/>
<path d="M708.00,302.50 L712.00,288.00 Q712.00,284.50 715.50,284.50 L726.10,284.50 Q729.60,284.50 729.60,288.00 L733.60,302.50 L730.20,302.80 L727.00,290.00 L733.40,307.80 L725.80,307.80 L725.80,322.30 L721.30,322.30 L721.30,307.80 L720.30,307.80 L720.30,322.30 L715.80,322.30 L715.80,307.80 L708.20,307.80 L714.60,290.00 L711.40,302.80 Z" fill="#6cbfa3" stroke="#6cbfa3" stroke-width="2.2" stroke-linejoin="round"/>
<circle cx="720.8" cy="275.5" r="7.4" fill="#6cbfa3"/>
<path d="M708.00,302.50 L712.00,288.00 Q712.00,284.50 715.50,284.50 L726.10,284.50 Q729.60,284.50 729.60,288.00 L733.60,302.50 L730.20,302.80 L727.00,290.00 L733.40,307.80 L725.80,307.80 L725.80,322.30 L721.30,322.30 L721.30,307.80 L720.30,307.80 L720.30,322.30 L715.80,322.30 L715.80,307.80 L708.20,307.80 L714.60,290.00 L711.40,302.80 Z" fill="#0f4f9f"/>
<circle cx="720.8" cy="275.5" r="6.3" fill="#0f4f9f"/>
<text x="676.10" y="283.40" font-family="DejaVu Sans Condensed, DejaVu Sans, sans-serif" font-stretch="condensed" font-size="6.19" font-weight="normal" textLength="21.41" lengthAdjust="spacingAndGlyphs" fill="#ffffff" stroke="#ffffff" stroke-width="0.19" stroke-linejoin="round">davon</text>
<text x="680.10" y="293.80" font-family="DejaVu Sans Condensed, DejaVu Sans, sans-serif" font-stretch="condensed" font-size="9.13" font-weight="bold" textLength="11.42" lengthAdjust="spacingAndGlyphs" fill="#ffffff">53</text>
<text x="683.50" y="301.70" font-family="DejaVu Sans Condensed, DejaVu Sans, sans-serif" font-stretch="condensed" font-size="6.04" font-weight="bold" textLength="5.71" lengthAdjust="spacingAndGlyphs" fill="#ffffff">%</text>
<text x="659.12" y="333.98" font-family="DejaVu Sans Condensed, DejaVu Sans, sans-serif" font-stretch="condensed" font-size="5.86" font-weight="bold" textLength="54.25" lengthAdjust="spacingAndGlyphs" fill="#0f4f9f" stroke="#0f4f9f" stroke-width="0.25" stroke-linejoin="round">aller Deutschen</text>
<text x="659.09" y="343.81" font-family="DejaVu Sans Condensed, DejaVu Sans, sans-serif" font-stretch="condensed" font-size="6.07" font-weight="normal" textLength="57.91" lengthAdjust="spacingAndGlyphs" fill="#0f4f9f" stroke="#0f4f9f" stroke-width="0.19" stroke-linejoin="round">lesen regelmäßig</text>
<text x="659.11" y="353.69" font-family="DejaVu Sans Condensed, DejaVu Sans, sans-serif" font-stretch="condensed" font-size="7.08" font-weight="normal" textLength="41.39" lengthAdjust="spacingAndGlyphs" fill="#0f4f9f" stroke="#0f4f9f" stroke-width="0.22" stroke-linejoin="round">Zeitschriften</text>
<text x="35.47" y="349.52" font-family="DejaVu Sans Condensed, DejaVu Sans, sans-serif" font-stretch="condensed" font-size="10.34" font-weight="bold" textLength="28.83" lengthAdjust="spacingAndGlyphs" fill="#0f4f9f" stroke="#0f4f9f" stroke-width="0.35" stroke-linejoin="round">RUND</text>
<text x="69.67" y="349.52" font-family="DejaVu Sans Condensed, DejaVu Sans, sans-serif" font-stretch="condensed" font-size="19.80" font-weight="bold" textLength="51.57" lengthAdjust="spacingAndGlyphs" fill="#0f4f9f" stroke="#0f4f9f" stroke-width="0.35" stroke-linejoin="round">7.000</text>
<text x="35.30" y="362.90" font-family="DejaVu Sans Condensed, DejaVu Sans, sans-serif" font-stretch="condensed" font-size="11.78" font-weight="bold" textLength="90.11" lengthAdjust="spacingAndGlyphs" fill="#ffffff">MEDIENMARKEN,</text>
<text x="35.44" y="373.26" font-family="DejaVu Sans Condensed, DejaVu Sans, sans-serif" font-stretch="condensed" font-size="6.61" font-weight="bold" textLength="81.92" lengthAdjust="spacingAndGlyphs" fill="#0f4f9f" stroke="#0f4f9f" stroke-width="0.28" stroke-linejoin="round">darunter Zeitschriften,</text>
<text x="35.44" y="383.16" font-family="DejaVu Sans Condensed, DejaVu Sans, sans-serif" font-stretch="condensed" font-size="6.58" font-weight="bold" textLength="12.22" lengthAdjust="spacingAndGlyphs" fill="#0f4f9f" stroke="#0f4f9f" stroke-width="0.28" stroke-linejoin="round">von</text>
<polygon points="34.70,418.20 65.20,413.20 65.70,453.80 34.70,458.00" fill="#0f4f9f"/>
<polygon points="66.90,418.50 69.20,418.20 69.20,461.00 34.70,461.00 34.70,459.40 66.90,455.60" fill="#0f4f9f"/>
<polygon points="92.60,391.40 122.70,386.70 123.60,427.80 92.60,432.00" fill="#0a88ad"/>
<polygon points="124.40,391.00 126.60,390.60 126.60,430.50 92.60,433.30 92.60,432.90 124.40,429.60" fill="#0a88ad"/>
<rect x="92.6" y="434.60" width="34" height="2.0" fill="#0a88ad"/>
<rect x="92.6" y="438.25" width="34" height="2.0" fill="#0a88ad"/>
<rect x="92.6" y="441.90" width="34" height="2.0" fill="#0a88ad"/>
<rect x="92.6" y="445.55" width="34" height="2.0" fill="#0a88ad"/>
<rect x="92.6" y="449.20" width="34" height="2.0" fill="#0a88ad"/>
<rect x="92.6" y="452.85" width="34" height="2.0" fill="#0a88ad"/>
<rect x="92.6" y="456.50" width="34" height="2.0" fill="#0a88ad"/>
<rect x="92.6" y="460.15" width="34" height="2.0" fill="#0a88ad"/>
<polygon points="149.70,345.80 179.70,341.40 180.50,382.40 149.70,385.80" fill="#e4007f"/>
<polygon points="181.30,345.50 184.10,345.10 184.10,385.50 149.70,387.20 149.70,386.80 181.30,383.60" fill="#e4007f"/>
<rect x="149.7" y="388.20" width="34.4" height="2.0" fill="#e4007f"/>
<rect x="149.7" y="391.50" width="34.4" height="2.0" fill="#e4007f"/>
<rect x="149.7" y="394.80" width="34.4" height="2.0" fill="#e4007f"/>
<rect x="149.7" y="398.10" width="34.4" height="2.0" fill="#e4007f"/>
<rect x="149.7" y="401.40" width="34.4" height="2.0" fill="#e4007f"/>
<rect x="149.7" y="404.70" width="34.4" height="2.0" fill="#e4007f"/>
<rect x="149.7" y="408.00" width="34.4" height="2.0" fill="#e4007f"/>
<rect x="149.7" y="411.30" width="34.4" height="2.0" fill="#e4007f"/>
<rect x="149.7" y="414.60" width="34.4" height="2.0" fill="#e4007f"/>
<rect x="149.7" y="417.90" width="34.4" height="2.0" fill="#e4007f"/>
<rect x="149.7" y="421.20" width="34.4" height="2.0" fill="#e4007f"/>
<rect x="149.7" y="424.50" width="34.4" height="2.0" fill="#e4007f"/>
<rect x="149.7" y="427.80" width="34.4" height="2.0" fill="#e4007f"/>
<rect x="149.7" y="431.10" width="34.4" height="2.0" fill="#e4007f"/>
<rect x="149.7" y="434.40" width="34.4" height="2.0" fill="#e4007f"/>
<rect x="149.7" y="437.70" width="34.4" height="2.0" fill="#e4007f"/>
<rect x="149.7" y="441.00" width="34.4" height="2.0" fill="#e4007f"/>
<rect x="149.7" y="444.30" width="34.4" height="2.0" fill="#e4007f"/>
<rect x="149.7" y="447.60" width="34.4" height="2.0" fill="#e4007f"/>
<rect x="149.7" y="450.90" width="34.4" height="2.0" fill="#e4007f"/>
<rect x="149.7" y="454.20" width="34.4" height="2.0" fill="#e4007f"/>
<rect x="149.7" y="457.50" width="34.4" height="2.0" fill="#e4007f"/>
<rect x="149.7" y="460.80" width="34.4" height="2.0" fill="#e4007f"/>
<text x="43.90" y="440.00" font-family="DejaVu Sans Condensed, DejaVu Sans, sans-serif" font-stretch="condensed" font-size="8.99" font-weight="bold" textLength="11.82" lengthAdjust="spacingAndGlyphs" fill="#ffffff">94</text>
<text x="94.70" y="412.20" font-family="DejaVu Sans Condensed, DejaVu Sans, sans-serif" font-stretch="condensed" font-size="9.40" font-weight="bold" textLength="26.01" lengthAdjust="spacingAndGlyphs" fill="#ffffff">1.202</text>
<text x="151.50" y="367.00" font-family="DejaVu Sans Condensed, DejaVu Sans, sans-serif" font-stretch="condensed" font-size="9.26" font-weight="bold" textLength="26.51" lengthAdjust="spacingAndGlyphs" fill="#ffffff">5.613</text>
<text x="25.15" y="472.45" font-family="DejaVu Sans Condensed, DejaVu Sans, sans-serif" font-stretch="condensed" font-size="7.11" font-weight="bold" textLength="53.40" lengthAdjust="spacingAndGlyphs" fill="#0f4f9f" stroke="#0f4f9f" stroke-width="0.30" stroke-linejoin="round">Konfessionelle</text>
<text x="40.46" y="481.34" font-family="DejaVu Sans Condensed, DejaVu Sans, sans-serif" font-stretch="condensed" font-size="7.38" font-weight="bold" textLength="22.79" lengthAdjust="spacingAndGlyphs" fill="#0f4f9f" stroke="#0f4f9f" stroke-width="0.31" stroke-linejoin="round">Presse</text>
<text x="89.35" y="472.45" font-family="DejaVu Sans Condensed, DejaVu Sans, sans-serif" font-stretch="condensed" font-size="6.98" font-weight="bold" textLength="40.71" lengthAdjust="spacingAndGlyphs" fill="#0f4f9f" stroke="#0f4f9f" stroke-width="0.29" stroke-linejoin="round">Publikums-</text>
<text x="86.75" y="481.15" font-family="DejaVu Sans Condensed, DejaVu Sans, sans-serif" font-stretch="condensed" font-size="7.11" font-weight="bold" textLength="45.21" lengthAdjust="spacingAndGlyphs" fill="#0f4f9f" stroke="#0f4f9f" stroke-width="0.30" stroke-linejoin="round">zeitschriften</text>
<text x="156.25" y="472.45" font-family="DejaVu Sans Condensed, DejaVu Sans, sans-serif" font-stretch="condensed" font-size="6.98" font-weight="bold" textLength="18.31" lengthAdjust="spacingAndGlyphs" fill="#0f4f9f" stroke="#0f4f9f" stroke-width="0.29" stroke-linejoin="round">Fach-</text>
<text x="144.15" y="481.15" font-family="DejaVu Sans Condensed, DejaVu Sans, sans-serif" font-stretch="condensed" font-size="7.11" font-weight="bold" textLength="44.71" lengthAdjust="spacingAndGlyphs" fill="#0f4f9f" stroke="#0f4f9f" stroke-width="0.30" stroke-linejoin="round">zeitschriften</text>
<path d="M213.2,383.6 L227.8,387.2 L240.8,458.4 L304.2,458.4" stroke="#0f4f9f" stroke-width="6.3" stroke-linecap="round" stroke-linejoin="round" fill="none"/>
<path d="M232.8,403.2 Q232.8,400.8 235.2,401.0 L312.6,409.6 Q315.2,409.9 314.7,412.4 L309.6,438.0 Q309.1,440.2 306.9,440.3 L240.5,442.6 Q238.2,442.7 237.8,440.4 Z" fill="#0f4f9f"/>
<circle cx="253.8" cy="472.8" r="8.0" fill="#0f4f9f"/>
<circle cx="291.8" cy="472.8" r="8.0" fill="#0f4f9f"/>
<text x="240.20" y="415.40" font-family="DejaVu Sans Condensed, DejaVu Sans, sans-serif" font-stretch="condensed" font-size="8.83" font-weight="bold" textLength="22.60" lengthAdjust="spacingAndGlyphs" fill="#ffffff">Ø 24</text>
<text x="240.20" y="429.40" font-family="DejaVu Sans Condensed, DejaVu Sans, sans-serif" font-stretch="condensed" font-size="11.28" font-weight="bold" textLength="56.71" lengthAdjust="spacingAndGlyphs" fill="#ffffff">MAGAZINE</text>
<text x="239.50" y="439.90" font-family="DejaVu Sans Condensed, DejaVu Sans, sans-serif" font-stretch="condensed" font-size="7.50" font-weight="bold" textLength="65.30" lengthAdjust="spacingAndGlyphs" fill="#ffffff">pro Jahr/Haushalt</text>
<polygon points="312.50,360.90 316.53,364.60 320.56,360.90 324.59,364.60 328.61,360.90 332.64,364.60 336.67,360.90 340.70,364.60 344.73,360.90 348.76,364.60 352.79,360.90 356.81,364.60 360.84,360.90 364.87,364.60 368.90,360.90 368.90,437.50 312.50,437.50" fill="#e4007f"/>
<path d="M367.5,402.9 L375.5,402.9 Q377.3,402.9 377.3,405 L377.3,432 Q377.3,437.8 371.5,437.8 L366,437.8 Z" fill="#e4007f"/>
<rect x="371.3" y="405.5" width="2.6" height="27" rx="1.2" fill="#f05aa8"/>
<clipPath id="one2"><polygon points="319.40,372.10 328.30,372.10 328.30,402.10 323.10,402.10 323.10,384.14 319.40,384.14"/></clipPath>
<text x="316.02" y="396.70" font-family="Liberation Sans, sans-serif" font-size="27.91" font-weight="bold" textLength="17.86" lengthAdjust="spacingAndGlyphs" fill="#ffffff" stroke="#ffffff" stroke-width="0.80" stroke-linejoin="round" clip-path="url(#one2)">1</text>
<text x="333.30" y="397.10" font-family="DejaVu Sans Condensed, DejaVu Sans, sans-serif" font-stretch="condensed" font-size="14.08" font-weight="bold" textLength="30.60" lengthAdjust="spacingAndGlyphs" fill="#ffffff">Mrd.</text>
<text x="332.00" y="410.20" font-family="DejaVu Sans Condensed, DejaVu Sans, sans-serif" font-stretch="condensed" font-size="10.62" font-weight="bold" textLength="16.41" lengthAdjust="spacingAndGlyphs" fill="#ffffff">pro</text>
<text x="319.25" y="432.20" font-family="DejaVu Sans Condensed, DejaVu Sans, sans-serif" font-stretch="condensed" font-size="18.22" font-weight="bold" textLength="42.97" lengthAdjust="spacingAndGlyphs" fill="#ffffff">JAHR</text>
<text x="314.30" y="454.80" font-family="DejaVu Sans Condensed, DejaVu Sans, sans-serif" font-stretch="condensed" font-size="10.96" font-weight="bold" textLength="61.21" lengthAdjust="spacingAndGlyphs" fill="#ffffff">VERKAUFTE</text>
<text x="314.48" y="467.93" font-family="DejaVu Sans Condensed, DejaVu Sans, sans-serif" font-stretch="condensed" font-size="10.27" font-weight="bold" textLength="63.55" lengthAdjust="spacingAndGlyphs" fill="#0f4f9f" stroke="#0f4f9f" stroke-width="0.35" stroke-linejoin="round">PUBLIKUMS-</text>
<text x="314.48" y="481.22" font-family="DejaVu Sans Condensed, DejaVu Sans, sans-serif" font-stretch="condensed" font-size="10.27" font-weight="bold" textLength="79.45" lengthAdjust="spacingAndGlyphs" fill="#0f4f9f" stroke="#0f4f9f" stroke-width="0.35" stroke-linejoin="round">ZEITSCHRIFTEN</text>
<circle cx="447.4" cy="366.6" r="18.8" fill="#0a88ad"/>
<polygon points="416.80,370.10 447.40,377.40 478.00,370.10 478.00,417.90 447.40,425.80 416.80,417.90" fill="#0f4f9f" stroke="#6cbfa3" stroke-width="1"/>
<circle cx="417.2" cy="401.1" r="8.1" fill="#0a88ad" stroke="#6cbfa3" stroke-width="1"/>
<circle cx="477.4" cy="401.1" r="8.1" fill="#0a88ad" stroke="#6cbfa3" stroke-width="1"/>
<text x="429.10" y="406.40" font-family="DejaVu Sans Condensed, DejaVu Sans, sans-serif" font-stretch="condensed" font-size="17.72" font-weight="bold" textLength="22.34" lengthAdjust="spacingAndGlyphs" fill="#ffffff">86</text>
<text x="456.70" y="406.60" font-family="DejaVu Sans Condensed, DejaVu Sans, sans-serif" font-stretch="condensed" font-size="8.46" font-weight="bold" textLength="9.51" lengthAdjust="spacingAndGlyphs" fill="#ffffff">%</text>
<text x="493.45" y="383.55" font-family="DejaVu Sans Condensed, DejaVu Sans, sans-serif" font-stretch="condensed" font-size="7.11" font-weight="bold" textLength="138.57" lengthAdjust="spacingAndGlyphs" fill="#0f4f9f" stroke="#0f4f9f" stroke-width="0.30" stroke-linejoin="round">der Entscheiderinnen und Entscheider</text>
<text x="493.44" y="393.26" font-family="DejaVu Sans Condensed, DejaVu Sans, sans-serif" font-stretch="condensed" font-size="6.73" font-weight="bold" textLength="149.04" lengthAdjust="spacingAndGlyphs" fill="#0f4f9f" stroke="#0f4f9f" stroke-width="0.28" stroke-linejoin="round">greifen regelmäßig oder gelegentlich auf</text>
<text x="493.30" y="406.80" font-family="DejaVu Sans Condensed, DejaVu Sans, sans-serif" font-stretch="condensed" font-size="11.28" font-weight="bold" textLength="108.39" lengthAdjust="spacingAndGlyphs" fill="#ffffff">FACHZEITSCHRIFTEN</text>
<text x="604.35" y="406.05" font-family="DejaVu Sans Condensed, DejaVu Sans, sans-serif" font-stretch="condensed" font-size="6.98" font-weight="bold" textLength="24.36" lengthAdjust="spacingAndGlyphs" fill="#0f4f9f" stroke="#0f4f9f" stroke-width="0.29" stroke-linejoin="round">zurück</text>
<clipPath id="one3"><polygon points="486.80,437.30 494.40,437.30 494.40,461.90 489.80,461.90 489.80,447.44 486.80,447.44"/></clipPath>
<text x="483.26" y="456.61" font-family="Liberation Sans, sans-serif" font-size="20.37" font-weight="bold" textLength="16.30" lengthAdjust="spacingAndGlyphs" fill="#0f4f9f" stroke="#0f4f9f" stroke-width="0.58" stroke-linejoin="round" clip-path="url(#one3)">1</text>
<text x="496.28" y="456.72" font-family="DejaVu Sans Condensed, DejaVu Sans, sans-serif" font-stretch="condensed" font-size="19.52" font-weight="bold" textLength="15.22" lengthAdjust="spacingAndGlyphs" fill="#0f4f9f" stroke="#0f4f9f" stroke-width="0.35" stroke-linejoin="round">,7</text>
<text x="515.73" y="456.77" font-family="DejaVu Sans Condensed, DejaVu Sans, sans-serif" font-stretch="condensed" font-size="5.98" font-weight="bold" textLength="34.75" lengthAdjust="spacingAndGlyphs" fill="#0f4f9f" stroke="#0f4f9f" stroke-width="0.25" stroke-linejoin="round">Mrd. Euro</text>
<text x="423.10" y="472.60" font-family="DejaVu Sans Condensed, DejaVu Sans, sans-serif" font-stretch="condensed" font-size="11.41" font-weight="bold" textLength="127.81" lengthAdjust="spacingAndGlyphs" fill="#ffffff">PAID-CONTENT-UMSATZ</text>
<text x="434.25" y="481.45" font-family="DejaVu Sans Condensed, DejaVu Sans, sans-serif" font-stretch="condensed" font-size="7.11" font-weight="bold" textLength="115.20" lengthAdjust="spacingAndGlyphs" fill="#0f4f9f" stroke="#0f4f9f" stroke-width="0.30" stroke-linejoin="round">bei Publikums- und Fachmedien</text>
<rect x="559.9" y="464.9" width="11.5" height="16.7" rx="1" fill="#0f4f9f"/>
<rect x="576.0" y="458.5" width="12.1" height="23.1" rx="1" fill="#0f4f9f"/>
<rect x="594.0" y="448.2" width="12.6" height="33.4" rx="1" fill="#0a88ad"/>
<path d="M559.5,455.5 Q584,451 603,432" stroke="#e4007f" stroke-width="4.4" stroke-linecap="round" fill="none"/>
<path d="M594.8,429.6 L605.5,429.2 L605.8,440.5" stroke="#e4007f" stroke-width="4.2" stroke-linecap="round" stroke-linejoin="round" fill="none"/>
<circle cx="688.2" cy="410.5" r="9.2" fill="#0f4f9f"/>
<circle cx="706.0" cy="405.8" r="9.8" fill="#0f4f9f" stroke="#6cbfa3" stroke-width="0.9"/>
<path d="M672.3,410.6 Q690,409.8 701.7,408.6 Q716,406 727.4,400.2 Q729.6,416 731.7,433.3 Q722,437.5 713.9,439.4 Q695,442.5 676.6,445.5 Q673.6,428 672.3,410.6 Z" fill="#e4007f"/>
<circle cx="720.7" cy="440.6" r="8.1" fill="#0f4f9f" stroke="#6cbfa3" stroke-width="1"/>
<g transform="rotate(-6 703 425)">
<text x="694.95" y="434.80" font-family="DejaVu Sans Condensed, DejaVu Sans, sans-serif" font-stretch="condensed" font-size="27.11" font-weight="bold" textLength="17.18" lengthAdjust="spacingAndGlyphs" fill="#ffffff">€</text>
</g>
<clipPath id="one4"><polygon points="639.50,447.40 646.90,447.40 646.90,472.40 642.70,472.40 642.70,457.68 639.50,457.68"/></clipPath>
<text x="636.88" y="467.10" font-family="Liberation Sans, sans-serif" font-size="20.93" font-weight="bold" textLength="14.61" lengthAdjust="spacingAndGlyphs" fill="#0f4f9f" stroke="#0f4f9f" stroke-width="0.60" stroke-linejoin="round" clip-path="url(#one4)">1</text>
<text x="648.67" y="467.22" font-family="DejaVu Sans Condensed, DejaVu Sans, sans-serif" font-stretch="condensed" font-size="19.66" font-weight="bold" textLength="27.93" lengthAdjust="spacingAndGlyphs" fill="#0f4f9f" stroke="#0f4f9f" stroke-width="0.35" stroke-linejoin="round">9,3</text>
<text x="680.44" y="467.26" font-family="DejaVu Sans Condensed, DejaVu Sans, sans-serif" font-stretch="condensed" font-size="6.48" font-weight="bold" textLength="35.03" lengthAdjust="spacingAndGlyphs" fill="#0f4f9f" stroke="#0f4f9f" stroke-width="0.27" stroke-linejoin="round">Mrd. Euro</text>
<text x="637.90" y="481.70" font-family="DejaVu Sans Condensed, DejaVu Sans, sans-serif" font-stretch="condensed" font-size="9.26" font-weight="bold" textLength="42.39" lengthAdjust="spacingAndGlyphs" fill="#ffffff">UMSATZ</text>
<text x="683.77" y="481.52" font-family="DejaVu Sans Condensed, DejaVu Sans, sans-serif" font-stretch="condensed" font-size="8.79" font-weight="bold" textLength="49.56" lengthAdjust="spacingAndGlyphs" fill="#0f4f9f" stroke="#0f4f9f" stroke-width="0.35" stroke-linejoin="round">PRO JAHR</text>
</svg>
</body></html>
